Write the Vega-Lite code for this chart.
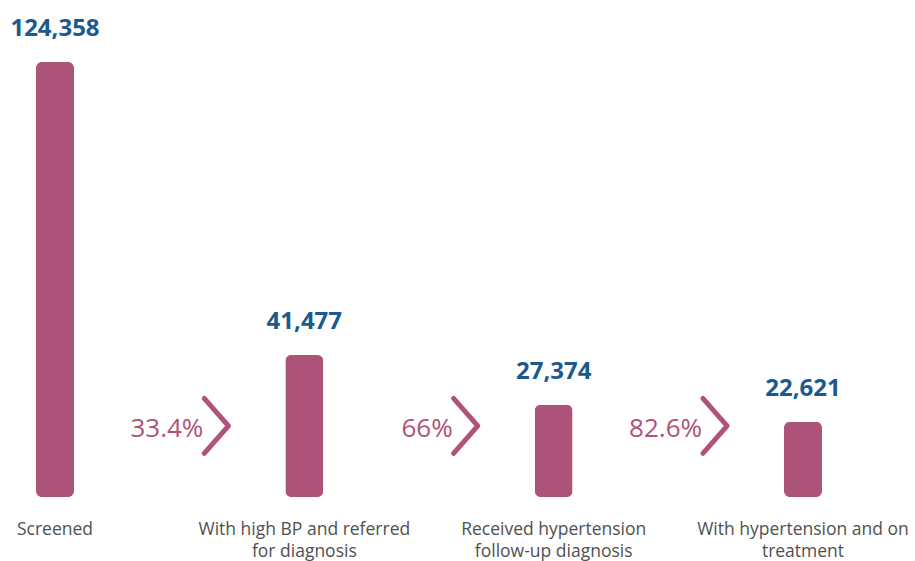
{
  "$schema": "https://vega.github.io/schema/vega-lite/v6.json",
  "width": 915,
  "height": 497,
  "autosize": {"type": "none"},
  "padding": {"left": 0, "top": 0, "right": 0, "bottom": 64},
  "background": "white",
  "config": {"view": {"stroke": null}, "font": "Open Sans"},
  "data": {
    "values": [
      {"i": 0, "stage": ["Screened"], "value": 124358, "pct": null},
      {"i": 1, "stage": ["With high BP and referred", "for diagnosis"], "value": 41477, "pct": "33.4%"},
      {"i": 2, "stage": ["Received hypertension", "follow-up diagnosis"], "value": 27374, "pct": "66%"},
      {"i": 3, "stage": ["With hypertension and on", "treatment"], "value": 22621, "pct": "82.6%"}
    ]
  },
  "encoding": {
    "x": {"field": "i", "type": "quantitative", "scale": {"domain": [0, 3], "range": [55, 803], "nice": false, "zero": false, "padding": 0}, "axis": null}
  },
  "layer": [
    {
      "mark": {"type": "bar", "width": 38, "cornerRadius": 6, "color": "#ad5279"},
      "encoding": {
        "y": {"field": "value", "type": "quantitative", "scale": {"domain": [1300, 141900], "nice": false, "zero": false, "clamp": true}, "axis": null}
      }
    },
    {
      "mark": {"type": "text", "fontWeight": "bold", "fontSize": 24, "color": "#1b5a8e", "baseline": "alphabetic", "dy": -26},
      "encoding": {
        "y": {"field": "value", "type": "quantitative"},
        "text": {"field": "value", "type": "quantitative", "format": ","}
      }
    },
    {
      "mark": {"type": "text", "fontSize": 17.5, "color": "#505050", "baseline": "alphabetic", "dy": 38, "lineHeight": 22},
      "encoding": {
        "y": {"datum": 1300},
        "text": {"field": "stage"}
      }
    },
    {
      "transform": [{"filter": "datum.pct != null"}],
      "mark": {"type": "point", "shape": "M-0.44,-1L0.44,0L-0.44,1", "size": 3025, "filled": false, "stroke": "#b0527a", "strokeWidth": 5, "strokeCap": "round", "strokeJoin": "round", "opacity": 1, "xOffset": -88},
      "encoding": {
        "y": {"datum": 21400}
      }
    },
    {
      "transform": [{"filter": "datum.pct != null"}],
      "mark": {"type": "text", "fontSize": 26, "fontWeight": 500, "color": "#b0527a", "align": "right", "baseline": "alphabetic", "dy": 11, "xOffset": -101},
      "encoding": {
        "y": {"datum": 21400},
        "text": {"field": "pct"}
      }
    }
  ]
}
